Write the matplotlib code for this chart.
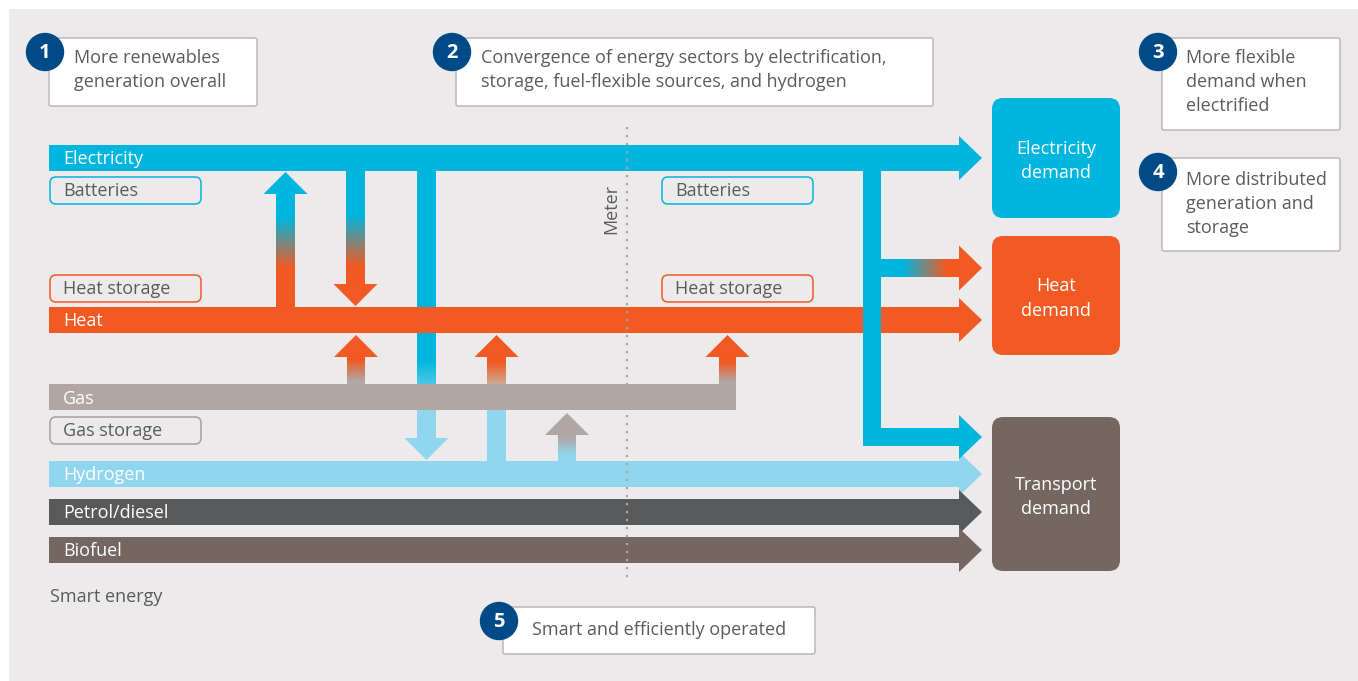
import numpy as np
import matplotlib
matplotlib.use("Agg")
import matplotlib.pyplot as plt
from matplotlib.patches import Rectangle, Polygon, FancyBboxPatch, Circle
from matplotlib.colors import to_rgb

# carriers (left to right flows) - pixel layout of the 1358x681 picture
carriers = ["Electricity", "Heat", "Gas", "Hydrogen", "Petrol/diesel", "Biofuel"]
carrier_colors = ["#00B6DE", "#F15A22", "#B0A7A5", "#8FD6EE", "#58595B", "#746762"]
carrier_top = [145, 307, 384, 461, 499, 537]
carrier_end = [959, 959, 736, 959, 959, 959]
carrier_head = [True, True, False, True, True, True]
bar_h = 26

# storage tags
storage_labels = ["Batteries", "Heat storage", "Gas storage", "Batteries", "Heat storage"]
storage_colors = ["#00B6DE", "#F15A22", "#A9A09E", "#00B6DE", "#F15A22"]
storage_x = [50, 50, 50, 662, 662]
storage_y = [177, 275, 417, 177, 275]

# demand boxes
demand_labels = ["Electricity\ndemand", "Heat\ndemand", "Transport\ndemand"]
demand_colors = ["#00B6DE", "#F15A22", "#746762"]
demand_y = [(98, 218), (236, 355), (417, 571)]

# numbered callouts
callout_num = ["1", "2", "3", "4", "5"]
callout_text = ["More renewables\ngeneration overall",
                "Convergence of energy sectors by electrification,\nstorage, fuel-flexible sources, and hydrogen",
                "More flexible\ndemand when\nelectrified",
                "More distributed\ngeneration and\nstorage",
                "Smart and efficiently operated"]
callout_box = [(49, 38, 257, 106), (456, 38, 933, 106), (1162, 38, 1340, 130),
               (1162, 158, 1340, 251), (503, 607, 815, 654)]
callout_first_line = [57, 57, 57, 179, 629]
callout_indent = [25, 25, 24, 24, 29]

PANEL = "#ECEAEB"
GREY_TXT = "#5B5B5D"
NAVY = "#004B87"
FS = 13
LS = 1.43

plt.rcParams['font.family'] = ['Open Sans', 'DejaVu Sans']

W, H = 1358, 681
fig = plt.figure(figsize=(13.58, 6.81), dpi=100, facecolor="white")
ax = fig.add_axes([0, 0, 1, 1])


def grad_rect(x0, x1, y0, y1, c_a, c_b, g0, g1, vertical=True, z=2):
    n = 300
    pos = np.linspace(y0, y1, n) if vertical else np.linspace(x0, x1, n)
    t = np.clip((pos - g0) / (g1 - g0), 0, 1)
    ca, cb = np.array(to_rgb(c_a)), np.array(to_rgb(c_b))
    cols = ca[None, :] * (1 - t[:, None]) + cb[None, :] * t[:, None]
    img = cols[:, None, :] if vertical else cols[None, :, :]
    ax.imshow(img, extent=(x0, x1, y1, y0), origin="upper", aspect="auto",
              interpolation="bilinear", zorder=z)


def rect(x0, x1, y0, y1, color, z=2):
    ax.add_patch(Rectangle((x0, y0), x1 - x0, y1 - y0, color=color, lw=0, zorder=z))


def head(pts, color, z=2):
    ax.add_patch(Polygon(pts, closed=True, color=color, lw=0, zorder=z))


def head_vert(xc, tip, base, color, half=22, z=2):
    head([(xc - half, base), (xc, tip), (xc + half, base)], color, z)


def head_right(base, tip, yc, color, half=22, z=3):
    head([(base, yc - half), (tip, yc), (base, yc + half)], color, z)


ELEC, HEAT, GAS, H2 = carrier_colors[:4]

# panel
ax.add_patch(Rectangle((9, 9), W - 9, H - 9, color=PANEL, lw=0, zorder=0))

# connectors between carriers (under the bars)
# heat -> electricity
grad_rect(276, 295, 193, 309, ELEC, HEAT, 218, 268)
head_vert(285.5, 172, 194, ELEC)
# electricity -> heat
grad_rect(346, 365, 170, 285, ELEC, HEAT, 215, 266)
head_vert(355.5, 306, 284, HEAT)
# gas -> heat
grad_rect(347, 365, 356, 386, HEAT, GAS, 360, 381)
head_vert(356, 335, 357, HEAT)
# electricity -> hydrogen
grad_rect(417, 436, 168, 439, ELEC, H2, 360, 405)
head_vert(426.5, 460, 438, H2)
# hydrogen -> heat
grad_rect(487, 506, 356, 386, HEAT, "#CDA994", 362, 384)
rect(487, 506, 408, 463, H2)
head_vert(496.5, 335, 357, HEAT)
# hydrogen -> gas
grad_rect(558, 576, 434, 463, GAS, H2, 437, 455)
head_vert(567, 413, 435, GAS)
# gas -> heat at end of gas line
grad_rect(719, 736, 356, 386, HEAT, GAS, 362, 382)
head_vert(727.5, 335, 357, HEAT)

# carrier bars
for name, c, top, end, hd in zip(carriers, carrier_colors, carrier_top, carrier_end, carrier_head):
    rect(49, end, top, top + bar_h, c, z=3)
    if hd:
        head_right(end, 982, top + bar_h / 2, c)
    ax.text(63, top + bar_h / 2 + 1.5, name, color="white", fontsize=FS,
            va="center", ha="left", zorder=6)

# electricity branch to heat and transport demand (drawn over heat bar)
rect(863, 881, 168, 446, ELEC, z=4)
grad_rect(880, 960, 259, 277, ELEC, HEAT, 903, 947, vertical=False, z=4)
head_right(959, 982, 268, HEAT, half=22.5, z=4)
rect(863, 960, 428, 446, ELEC, z=4)
head_right(959, 982, 437, ELEC, z=3)

# demand boxes
for lab, c, (y0, y1) in zip(demand_labels, demand_colors, demand_y):
    ax.add_patch(FancyBboxPatch((992, y0), 128, y1 - y0,
                                boxstyle="round,pad=0,rounding_size=11",
                                fc=c, ec="none", zorder=5))
    ax.text(1056, (y0 + y1) / 2 + 3, lab, color="white", fontsize=FS,
            ha="center", va="center", linespacing=LS, zorder=6)

# storage tags
for lab, c, x, y in zip(storage_labels, storage_colors, storage_x, storage_y):
    ax.add_patch(FancyBboxPatch((x, y), 151, 27,
                                boxstyle="round,pad=0,rounding_size=6",
                                fc=PANEL, ec=c, lw=1.1, zorder=5))
    ax.text(x + 13, y + 14.5, lab, color=GREY_TXT, fontsize=FS,
            ha="left", va="center", zorder=6)

# numbered callouts
for num, txt, (x0, y0, x1, y1), ly, ind in zip(callout_num, callout_text, callout_box,
                                               callout_first_line, callout_indent):
    ax.add_patch(FancyBboxPatch((x0, y0), x1 - x0, y1 - y0,
                                boxstyle="round,pad=0,rounding_size=2",
                                fc="white", ec="#B8B1AF", lw=1.0, zorder=5))
    ax.add_patch(Circle((x0 - 4, y0 + 14), 18.5, color=NAVY, zorder=6))
    ax.text(x0 - 4, y0 + 15, num, color="white", fontsize=14.5, fontweight="bold",
            ha="center", va="center", zorder=7)
    nlines = txt.count("\n") + 1
    ax.text(x0 + ind, ly + 12 * (nlines - 1) + 1, txt, color=GREY_TXT, fontsize=FS,
            ha="left", va="center", linespacing=LS, zorder=7)

# meter line
ax.plot([627, 627], [127, 583], color="#A9A3A3", lw=1.6,
        linestyle=(0, (1, 2.6)), zorder=8)
ax.text(611, 209, "Meter", color=GREY_TXT, fontsize=FS, rotation=90,
        ha="center", va="center", zorder=8)

ax.text(50, 597, "Smart energy", color=GREY_TXT, fontsize=FS,
        ha="left", va="center", zorder=6)

ax.set_xlim(0, W)
ax.set_ylim(H, 0)
ax.axis("off")
fig.savefig("out.png", dpi=100, facecolor="white")
